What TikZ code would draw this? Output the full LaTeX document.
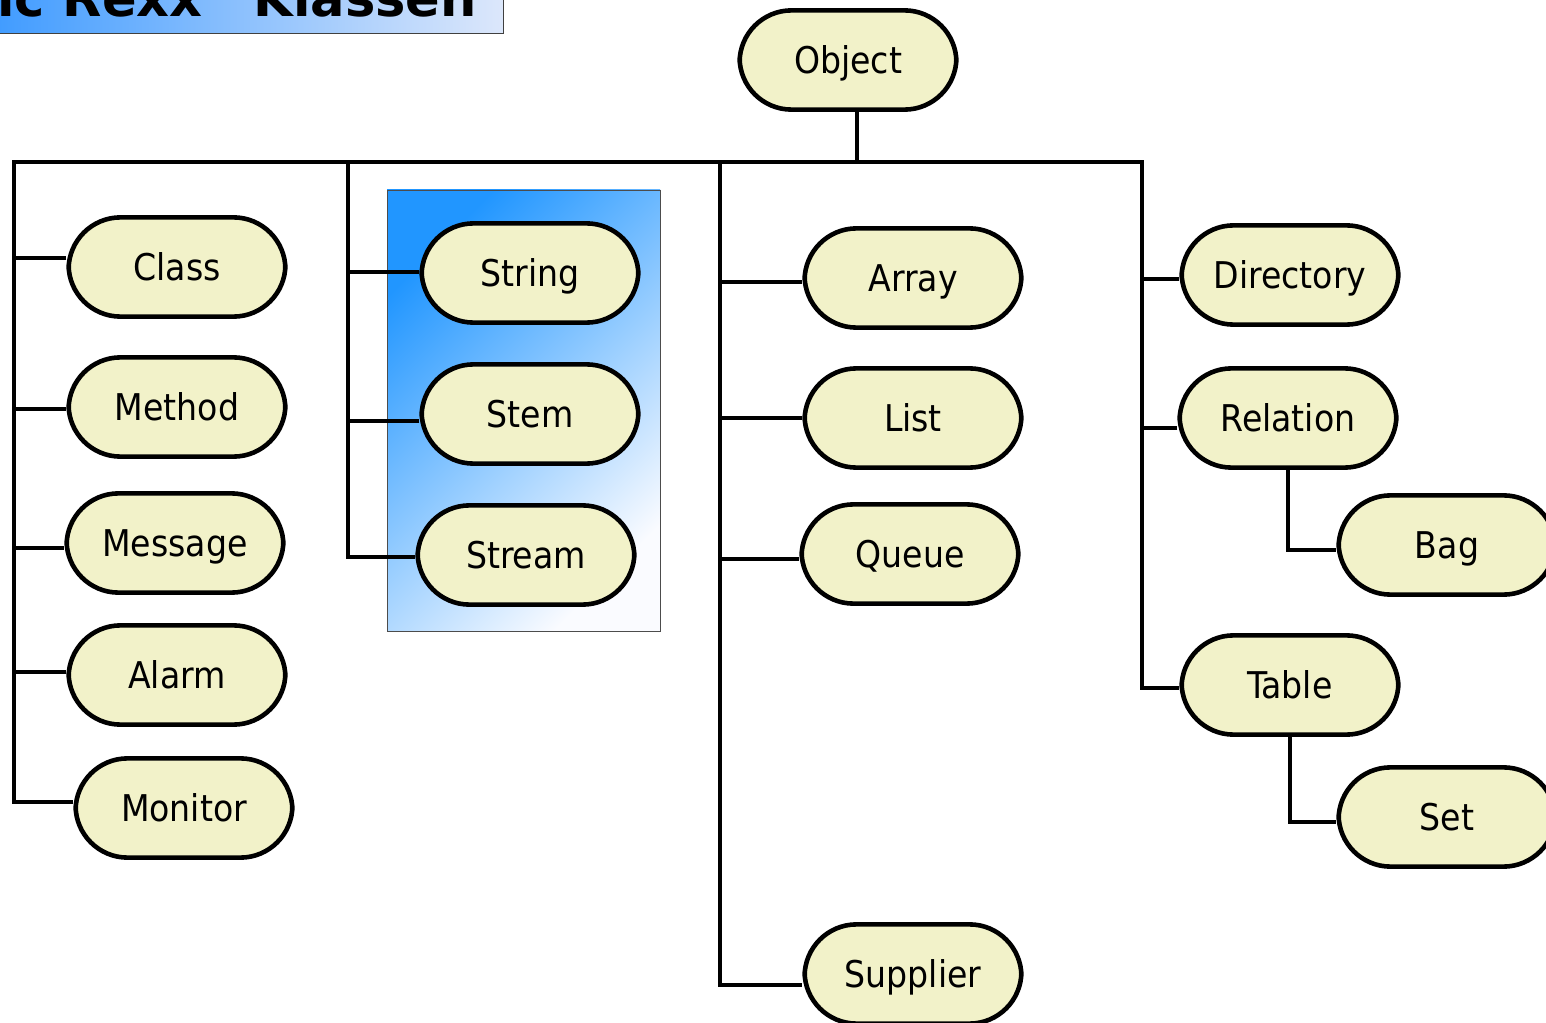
\documentclass[tikz,border=0pt]{standalone}
\usepackage{fontspec}
\setmainfont{DejaVu Sans Condensed}
\newfontfamily\titlefont{DejaVu Sans}
\usetikzlibrary{calc}

\definecolor{classfill}{HTML}{F2F2C9}
\definecolor{titleblue}{HTML}{3F9BFF}
\definecolor{titlepale}{HTML}{DCE7FB}
\definecolor{boxblue}{HTML}{2196FF}
\definecolor{boxmid}{HTML}{A3C8FF}
\definecolor{boxpale}{HTML}{FAFBFF}

\begin{document}
\begin{tikzpicture}[
  x=0.025cm, y=-0.025cm,
  cls/.style={draw, line width=0.115cm, fill=classfill, rounded corners=1.3cm,
    minimum width=5.42cm, minimum height=2.48cm, inner sep=0pt,
    text height=19.1pt, text depth=0pt,
    font=\fontsize{26.2}{30}\selectfont},
  link/.style={line width=0.11cm}
]
\clip (0,0) rectangle (1546,1023);

% title bar, cut at the top edge
\draw[left color=titleblue, right color=titlepale, draw=black!75, line width=0.6pt]
  (-10,-80) rectangle (503,33);
\node[anchor=base west, inner sep=0pt,
      font=\titlefont\bfseries\fontsize{36.3}{40}\selectfont] (title) at (-3,17)
  {ic Rexx\quad Klassen};

% shaded group box behind String / Stem / Stream
\draw[top color=boxblue, middle color=boxmid, bottom color=boxpale, shading angle=45,
      draw=black!70, line width=0.6pt] (387,190) rectangle (660,631);

% class nodes
\node[cls] (Object)    at (848,60)   {Object};
\node[cls] (Class)     at (177,267)  {Class};
\node[cls] (Method)    at (177,407)  {Method};
\node[cls] (Message)   at (175,543)  {Message};
\node[cls] (Alarm)     at (177,675)  {Alarm};
\node[cls] (Monitor)   at (184,808)  {Monitor};
\node[cls] (String)    at (530,273)  {String};
\node[cls] (Stem)      at (530,414)  {Stem};
\node[cls] (Stream)    at (526,555)  {Stream};
\node[cls] (Array)     at (913,278)  {Array};
\node[cls] (List)      at (913,418)  {List};
\node[cls] (Queue)     at (910,554)  {Queue};
\node[cls] (Supplier)  at (913,974)  {Supplier};
\node[cls] (Directory) at (1290,275) {Directory};
\node[cls] (Relation)  at (1288,418) {Relation};
\node[cls] (Bag)       at (1447,545) {Bag};
\node[cls] (Table)     at (1290,685) {Table};
\node[cls] (Set)       at (1447,817) {Set};

% junctions on the horizontal bus
\coordinate (busL)    at (14,162);
\coordinate (trunkB)  at (348,162);
\coordinate (trunkC)  at (720,162);
\coordinate (objFoot) at (857,162);
\coordinate (busR)    at (1142,162);

% Object down to the bus
\draw[link] (Object.south -| objFoot) -- (objFoot);

% bus with outer trunks
\draw[link] ($(Monitor.west)+(0,-6)$) -| (busL) -- (busR) |- ($(Table.west)+(0,3)$);
\draw[link] (trunkB) |- ($(Stream.west)+(0,2)$);
\draw[link] (trunkC) |- ($(Supplier.west)+(0,11)$);

% side branches
\foreach \n/\dy/\t in {Class/-9/busL, Method/2/busL, Message/5/busL, Alarm/-3/busL,
                       String/-1/trunkB, Stem/7/trunkB,
                       Array/4/trunkC, List/0/trunkC, Queue/5/trunkC,
                       Directory/4/busR, Relation/10/busR}
  \draw[link] ($(\n.west)+(0,\dy)$) coordinate (br) -- (br -| \t);

% sub-classes of Relation and Table
\draw[link] (Relation.south) |- ($(Bag.west)+(0,5)$);
\draw[link] (Table.south) |- ($(Set.west)+(0,5)$);
\end{tikzpicture}
\end{document}
